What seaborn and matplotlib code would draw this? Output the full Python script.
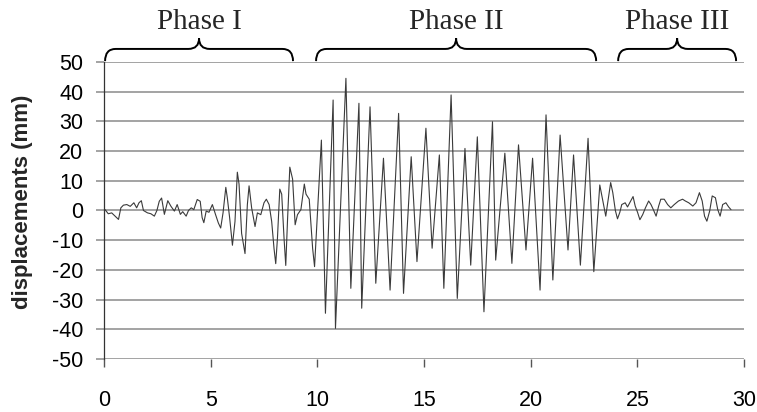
import numpy as np
import pandas as pd
import matplotlib
matplotlib.use('Agg')
import matplotlib.pyplot as plt
import seaborn as sns
from matplotlib.path import Path
from matplotlib.patches import PathPatch

# ── Data (turning points of the record) ──────────────────────────
time_s = [0.05, 0.2, 0.36, 0.52, 0.68, 0.79, 0.91, 1.07, 1.23, 1.4, 1.53, 1.64,
          1.75, 1.85, 2.04, 2.2, 2.36, 2.48, 2.59, 2.7, 2.83, 2.99, 3.14, 3.3,
          3.43, 3.58, 3.69, 3.85, 3.96, 4.09, 4.21, 4.37, 4.51, 4.6, 4.68, 4.79,
          4.92, 5.08, 5.23, 5.36, 5.47, 5.58, 5.71, 5.78, 5.89, 6.02, 6.14, 6.25,
          6.33, 6.45, 6.61, 6.72, 6.8, 6.92, 7.08, 7.19, 7.35, 7.5, 7.61, 7.74,
          7.86, 7.97, 8.05, 8.13, 8.24, 8.33, 8.44, 8.52, 8.6, 8.71, 8.84, 8.96,
          9.07, 9.23, 9.39, 9.47, 9.62, 9.78,
          9.87, 10.19, 10.38, 10.74, 10.85, 11.34, 11.57, 11.95, 12.08, 12.47,
          12.74, 13.1, 13.41, 13.81, 14.04, 14.4, 14.67, 15.09, 15.38, 15.72,
          15.93, 16.27, 16.56, 16.92, 17.19, 17.5, 17.81, 18.21, 18.36, 18.79,
          19.12, 19.43, 19.78, 20.09, 20.44, 20.72, 21.04, 21.38, 21.75, 22.01,
          22.33, 22.69, 22.96, 23.24,
          23.52, 23.75, 23.85, 23.97, 24.07, 24.18, 24.27, 24.43, 24.54, 24.69,
          24.8, 24.9, 25.01, 25.12, 25.25, 25.38, 25.53, 25.64, 25.75, 25.88,
          26.0, 26.1, 26.26, 26.42, 26.57, 26.73, 26.93, 27.12, 27.25, 27.41,
          27.6, 27.75, 27.91, 28.04, 28.15, 28.26, 28.39, 28.51, 28.66, 28.77,
          28.88, 29.0, 29.15, 29.28, 29.39]
disp_mm = [0.3, -1.1, -0.8, -1.9, -3.0, 0.9, 1.8, 2.0, 1.4, 2.6, 0.9, 2.6,
           3.3, 0.0, -0.8, -1.1, -1.9, 0.0, 3.1, 4.2, -1.3, 3.3, 1.4, -0.2,
           2.0, -1.3, -0.4, -1.9, 0.0, 0.9, 0.3, 3.7, 3.1, -2.4, -4.1, -0.2,
           -0.6, 2.0, -1.4, -4.2, -5.9, -0.8, 7.8, 4.3, -2.5, -11.7, -3.7, 12.9,
           8.9, -7.7, -14.5, 2.0, 8.3, 0.9, -5.4, -0.8, -1.4, 2.6, 3.8, 2.0,
           -3.7, -12.8, -17.9, -9.4, 7.2, 5.5, -9.4, -18.5, -3.7, 14.6, 10.6, -4.8,
           -1.4, 0.3, 8.9, 5.5, 3.8, -12.8,
           -18.9, 23.7, -34.6, 37.2, -39.7, 44.5, -26.2, 36.1, -32.9, 34.9,
           -24.5, 17.6, -26.8, 32.7, -27.9, 18.1, -17.2, 27.7, -12.7, 18.7,
           -26.2, 38.9, -29.6, 20.9, -18.4, 24.8, -34.1, 29.9, -16.7, 19.3,
           -17.8, 22.1, -13.3, 17.6, -26.8, 32.2, -23.4, 25.4, -13.3, 18.7,
           -18.4, 24.3, -20.6, 8.6,
           -1.9, 9.4, 6.0, 0.0, -2.8, -0.6, 2.0, 2.6, 1.2, 3.2,
           4.7, 1.5, -0.6, -3.1, -1.4, 0.9, 3.2, 2.0, 0.3, -1.9,
           1.5, 3.8, 3.8, 2.0, 0.9, 2.0, 3.2, 3.8, 3.2, 2.6,
           1.5, 2.6, 6.0, 3.2, -1.9, -3.6, -0.2, 4.9, 4.3, 0.3,
           -1.9, 2.0, 2.6, 1.2, 0.3]

phase_names = ['Phase I', 'Phase II', 'Phase III']
phase_start = [0.05, 9.94, 24.1]
phase_end = [8.86, 23.07, 29.63]

df = pd.DataFrame({'time': time_s, 'disp': disp_mm})

# ── Style ────────────────────────────────────────────────────
sns.set_style('ticks')
plt.rcParams['font.family'] = ['Liberation Sans', 'DejaVu Sans']
plt.rcParams['axes.unicode_minus'] = False

fig = plt.figure(figsize=(7.57, 4.12), dpi=100)
ax = fig.add_axes([104 / 757, 1 - 359 / 412, (744 - 104) / 757, (359 - 62) / 412])

sns.lineplot(data=df, x='time', y='disp', ax=ax, color='#3a3a3a',
             linewidth=0.8, sort=False, estimator=None)

ax.set_xlim(0, 30)
ax.set_ylim(-50, 50)
ax.set_xticks(range(0, 31, 5))
ax.set_yticks(range(-50, 51, 10))
ax.set_axisbelow(True)
ax.yaxis.grid(True, color='#8a8a8a', linewidth=1.1)
ax.xaxis.grid(False)

for side in ['top', 'right', 'bottom']:
    ax.spines[side].set_visible(False)
ax.spines['left'].set_color('#333333')
ax.spines['left'].set_linewidth(0.9)

ax.tick_params(axis='y', left=True, length=6, width=1.1, color='#8a8a8a',
               labelsize=15.5, pad=9, labelcolor='black')
ax.tick_params(axis='x', bottom=True, length=6, width=1.0, color='#555555',
               labelsize=15.5, pad=16, labelcolor='black')

ax.set_xlabel('')
ax.set_ylabel('displacements (mm)', fontsize=16, fontweight='bold')
ax.yaxis.set_label_coords(-0.111, 0.529)

# ── Phase braces ─────────────────────────────────────────────
y_end, y_mid, y_tip, r = 50.3, 54.4, 58.0, 0.5
for name, x0, x1 in zip(phase_names, phase_start, phase_end):
    xc = (x0 + x1) / 2
    verts = [(x0, y_end), (x0, y_mid), (x0 + r, y_mid),
             (xc - r, y_mid), (xc, y_mid), (xc, y_tip),
             (xc, y_mid), (xc + r, y_mid),
             (x1 - r, y_mid), (x1, y_mid), (x1, y_end)]
    codes = [Path.MOVETO, Path.CURVE3, Path.CURVE3,
             Path.LINETO, Path.CURVE3, Path.CURVE3,
             Path.CURVE3, Path.CURVE3,
             Path.LINETO, Path.CURVE3, Path.CURVE3]
    ax.add_patch(PathPatch(Path(verts, codes), facecolor='none',
                           edgecolor='black', linewidth=1.4, clip_on=False))
    ax.text(xc, 61.0, name, ha='center', va='baseline', fontsize=21,
            family=['Liberation Serif', 'DejaVu Serif'], clip_on=False)

fig.savefig('out.png', dpi=100)
